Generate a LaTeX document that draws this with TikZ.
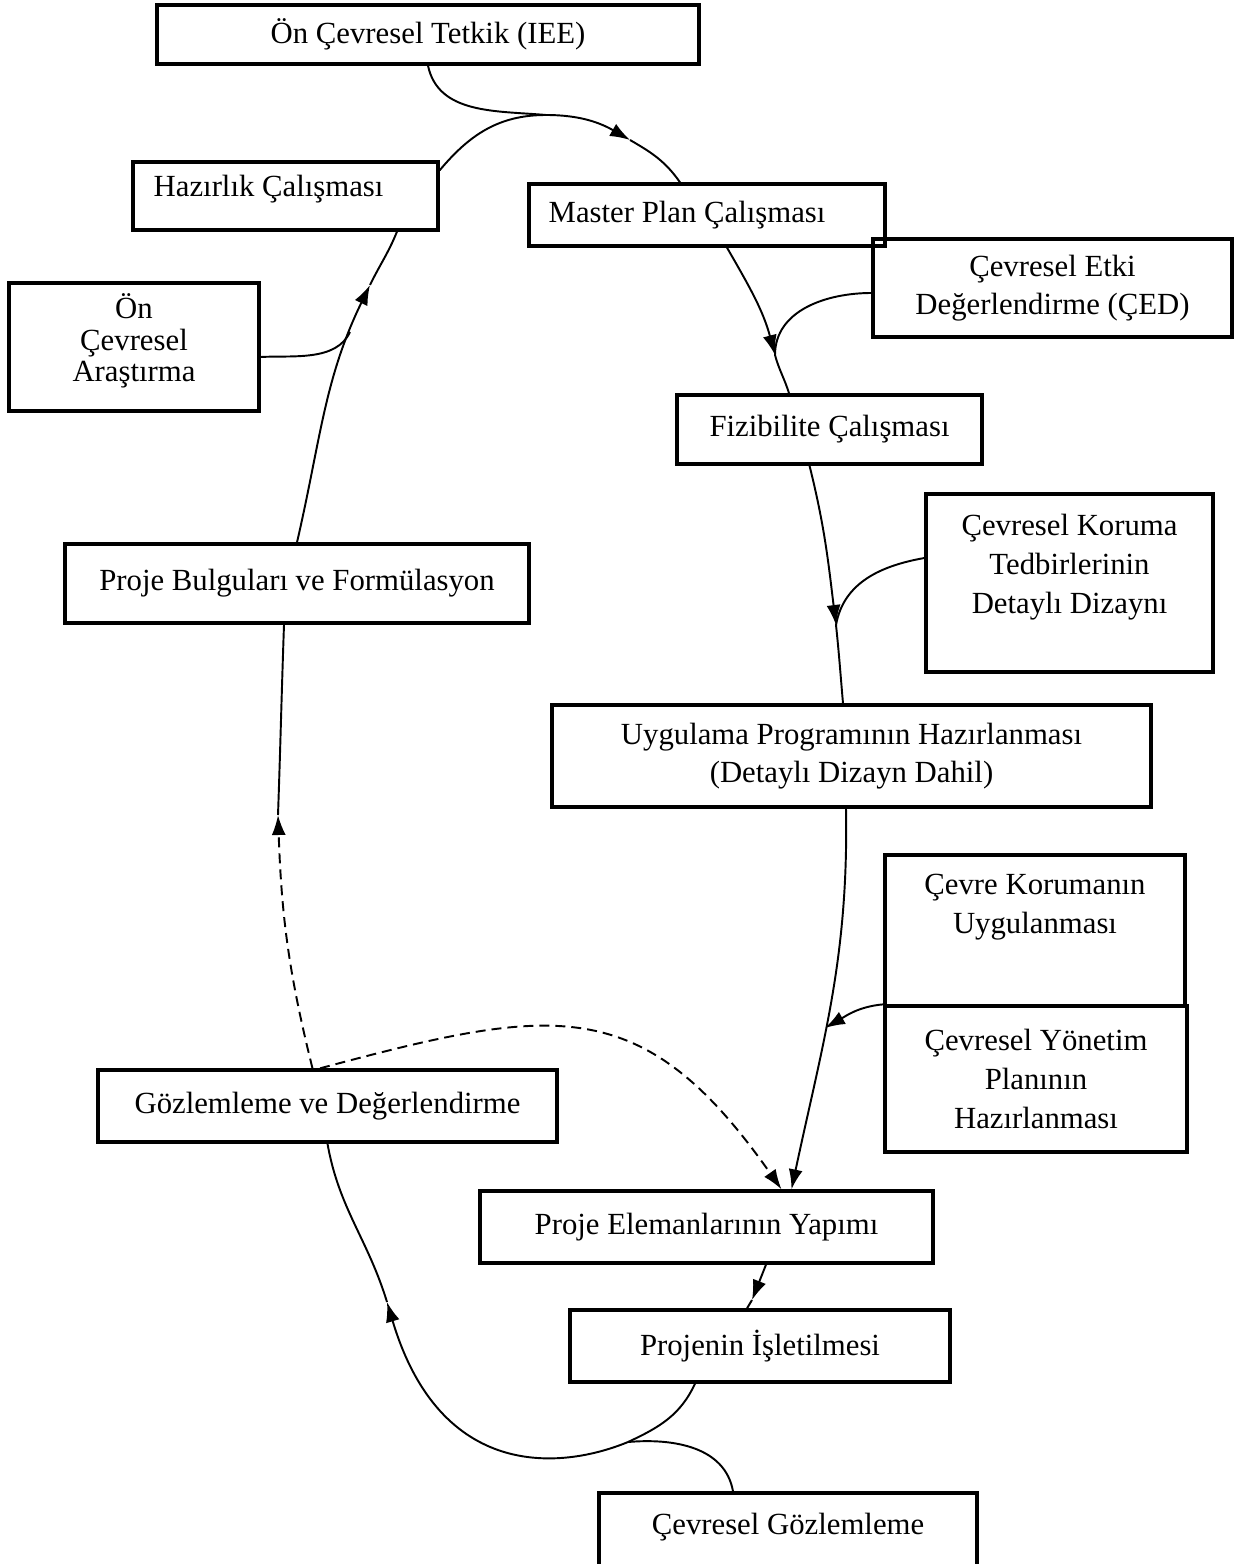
\documentclass[tikz,border=0pt]{standalone}
\usepackage{fontspec}
\setmainfont{Liberation Serif}
\usetikzlibrary{arrows.meta}

\begin{document}
\begin{tikzpicture}[x=0.02cm, y=0.02cm,
    box/.style={draw, line width=1.9pt, rectangle, align=center,
                font=\fontsize{17.5}{22}\selectfont},
    txt/.style={align=center, font=\fontsize{17.5}{22}\selectfont},
    link/.style={line width=1.1pt},
    arr/.style={link, -{Latex[length=4mm,width=2.8mm]}},
    fb/.style={arr, dash pattern=on 2mm off 1.2mm}]
    \useasboundingbox (0,0) rectangle (1238,-1564);

    % boxes
    \node[box, minimum width=10.84cm, minimum height=1.18cm] (iee) at (428,-34.5) {Ön Çevresel Tetkik (IEE)};
    \node[box, minimum width=6.1cm, minimum height=1.36cm] (haz) at (285.5,-196) {};
    \node[txt, anchor=west, inner xsep=0pt] (haztxt) at ([xshift=4.4mm,yshift=1.4mm]haz.west) {Hazırlık Çalışması};
    \node[box, minimum width=7.12cm, minimum height=1.24cm] (master) at (707,-215) {};
    \node[txt, anchor=west, inner xsep=0pt] (mastertxt) at ([xshift=4.2mm]master.west) {Master Plan Çalışması};
    \node[box, minimum width=7.18cm, minimum height=1.96cm] (ced) at (1052.5,-288) {Çevresel Etki\\Değerlendirme (ÇED)};
    \node[box, minimum width=5cm, minimum height=2.56cm] (onar) at (134,-347) {};
    \node[txt, font=\fontsize{17.5}{18}\selectfont] (onartxt) at (134,-341) {Ön\\Çevresel\\Araştırma};
    \node[box, minimum width=6.1cm, minimum height=1.38cm] (fiz) at (829.5,-429.5) {Fizibilite Çalışması};
    \node[box, minimum width=5.74cm, minimum height=3.56cm] (koruma) at (1069.5,-583) {};
    \node[txt] (korumatxt) at (1069.5,-567) {Çevresel Koruma\\Tedbirlerinin\\Detaylı Dizaynı};
    \node[box, minimum width=9.28cm, minimum height=1.58cm] (bulgu) at (297,-583.5) {Proje Bulguları ve Formülasyon};
    \node[box, minimum width=11.98cm, minimum height=2.04cm] (uyg) at (851.5,-756) {Uygulama Programının Hazırlanması\\(Detaylı Dizayn Dahil)};
    \node[box, minimum width=6cm, minimum height=3.02cm] (cevrekor) at (1035,-930.5) {};
    \node[txt] (cevrekortxt) at (1035,-907) {Çevre Korumanın\\Uygulanması};
    \node[box, minimum width=6.04cm, minimum height=2.92cm] (yonetim) at (1036,-1079) {Çevresel Yönetim\\Planının\\Hazırlanması};
    \node[box, minimum width=9.18cm, minimum height=1.44cm] (gozlem) at (327.5,-1106) {Gözlemleme ve Değerlendirme};
    \node[box, minimum width=9.06cm, minimum height=1.44cm] (yapim) at (706.5,-1227) {Proje Elemanlarının Yapımı};
    \node[box, minimum width=7.6cm, minimum height=1.44cm] (isletme) at (760,-1346) {Projenin İşletilmesi};
    \node[box, minimum width=7.56cm, minimum height=2.54cm] (cevgoz) at (788,-1556.5) {};
    \node[txt] (cevgoztxt) at (788,-1527) {Çevresel Gözlemleme};

    % points where lines meet
    \coordinate (peak) at (546,-115);
    \coordinate (tipmp) at (630,-140);
    \coordinate (tipfz) at (775,-355);
    \coordinate (tipuy) at (836,-625);
    \coordinate (tipyn) at (825,-1028);
    \coordinate (tipbg) at (278,-815);
    \coordinate (tiphz) at (370,-285);
    \coordinate (jon) at (350,-332);
    \coordinate (tipis) at (752,-1300);
    \coordinate (jbot) at (628,-1442);
    \coordinate (tipgz) at (387,-1302);

    % top of the cycle
    \draw[link] (iee.south) to[out=-78,in=175] (peak);
    \draw[link] ([yshift=-2mm]haz.north east) to[out=50,in=180] (peak);
    \draw[arr] (peak) to[out=0,in=150] (tipmp);
    \draw[link] (tipmp) to[out=-30,in=125] ([xshift=-5.4mm]master.north);

    % right side, going down
    \draw[arr] ([xshift=4mm]master.south) to[out=-60,in=105] (tipfz);
    \draw[link] (tipfz) to[out=-75,in=107] ([xshift=-8.1mm]fiz.north);
    \draw[link] ([yshift=-1mm]ced.west) to[out=180,in=90] (tipfz);
    \draw[arr] ([xshift=-4mm]fiz.south) to[out=-76,in=97] (tipuy);
    \draw[link] (tipuy) to[out=-84,in=95] ([xshift=-1.7mm]uyg.north);
    \draw[link] ([yshift=5mm]koruma.west) to[out=190,in=80] (tipuy);
    \draw[arr] ([xshift=-1.1mm]uyg.south) to[out=-89,in=78] ([xshift=17mm]yapim.north);
    \draw[arr] (yonetim.north west) to[out=185,in=30] (tipyn);

    % feedback (dashed)
    \draw[fb] ([xshift=-1.5mm]gozlem.north) to[out=15,in=125,looseness=1.3] ([xshift=15mm]yapim.north);
    \draw[fb] ([xshift=-3mm]gozlem.north) to[out=104,in=-88] (tipbg);
    \draw[link] (tipbg) to[out=88,in=-92] ([xshift=-2.6mm]bulgu.south);

    % left side, going up
    \draw[arr] (bulgu.north) to[out=77,in=-116] (tiphz);
    \draw[link] (tiphz) to[out=64,in=-112] ([xshift=22.3mm]haz.south);
    \draw[link] ([yshift=-2mm]onar.east) to[out=3,in=-115,looseness=0.9] (jon);

    % bottom
    \draw[arr] ([xshift=11.9mm]yapim.south) -- (tipis);
    \draw[link] (tipis) -- ([xshift=-2.6mm]isletme.north);
    \draw[link] ([xshift=-13mm]isletme.south) to[out=-115,in=25] (jbot);
    \draw[arr] (jbot) .. controls (560,-1470) and (440,-1480) .. (tipgz);
    \draw[link] (tipgz) to[out=107,in=-80] (gozlem.south);
    \draw[link] ([xshift=-11mm]cevgoz.north) to[out=100,in=5] (jbot);
\end{tikzpicture}
\end{document}
